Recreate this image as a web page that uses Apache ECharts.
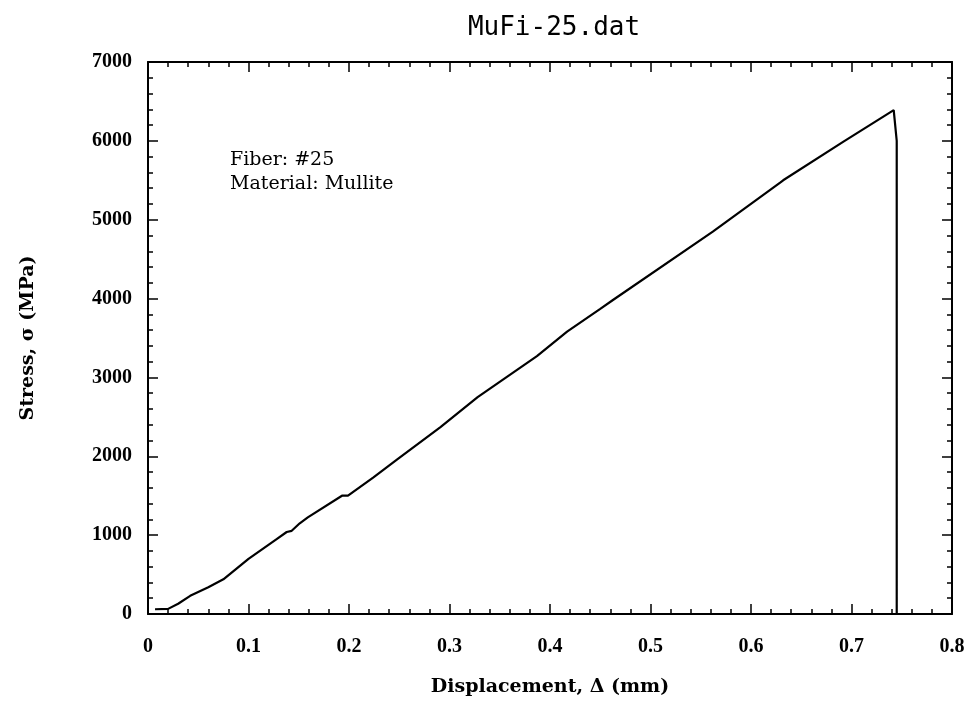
<!DOCTYPE html>
<html>
<head>
<meta charset="utf-8">
<script src="https://cdn.jsdelivr.net/npm/echarts@6/dist/echarts.min.js"></script>
<style>
  html, body { margin: 0; padding: 0; background: #fff; }
  #chart { width: 968px; height: 713px; }
</style>
</head>
<body>
<div id="chart"></div>
<script>
// Displacement (mm) and stress (MPa)
const displacement = [0.007, 0.02, 0.03, 0.042, 0.06, 0.075, 0.1, 0.128, 0.138, 0.143, 0.151, 0.159,
  0.193, 0.199, 0.224, 0.248, 0.291, 0.328, 0.387, 0.417, 0.45, 0.463, 0.562, 0.629, 0.632, 0.692,
  0.742, 0.745, 0.745];
const stress = [60, 65, 130, 230, 340, 440, 700, 950, 1040, 1055, 1150, 1225,
  1500, 1500, 1730, 1960, 2370, 2750, 3270, 3580, 3870, 3985, 4850, 5470, 5500, 5990,
  6390, 6000, 0];

const noteLines = ['Fiber: #25', 'Material: Mullite'];

const serif = '"DejaVu Serif", "Liberation Serif", serif';
const tickFont = '"Liberation Serif", "DejaVu Serif", serif';

const chart = echarts.init(document.getElementById('chart'));

const axisLine = { show: true, onZero: false, lineStyle: { color: '#000', width: 2 } };
const tick = { show: true, inside: true, length: 10, lineStyle: { color: '#000', width: 1.5 } };
const minor = { show: true, splitNumber: 5, length: 5, lineStyle: { color: '#000', width: 1.5 } };

chart.setOption({
  animation: false,
  title: {
    text: 'MuFi-25.dat',
    left: 549,
    textAlign: 'center',
    top: 10,
    textStyle: { fontFamily: '"DejaVu Sans Mono", monospace', fontWeight: 'normal', fontSize: 26, color: '#000' }
  },
  grid: { left: 148, right: 16, top: 62, bottom: 99 },
  graphic: [{
    type: 'text',
    left: 230,
    top: 148,
    style: {
      text: noteLines.join('\n'),
      font: '19px ' + serif,
      lineHeight: 24,
      fill: '#000'
    }
  }],
  xAxis: [{
    type: 'value',
    min: 0, max: 0.8, interval: 0.1,
    name: 'Displacement, Δ (mm)',
    nameLocation: 'middle',
    nameGap: 64,
    nameTextStyle: { fontFamily: serif, fontWeight: 'bold', fontSize: 19, color: '#000' },
    axisLine: axisLine,
    axisTick: tick,
    minorTick: minor,
    splitLine: { show: false },
    axisLabel: {
      margin: 23,
      fontFamily: tickFont, fontWeight: 'bold', fontSize: 20, color: '#000',
      formatter: v => v === 0 ? '0' : v.toFixed(1)
    }
  }, {
    type: 'value',
    position: 'top',
    min: 0, max: 0.8, interval: 0.1,
    axisLine: axisLine,
    axisTick: tick,
    minorTick: minor,
    splitLine: { show: false },
    axisLabel: { show: false }
  }],
  yAxis: [{
    type: 'value',
    min: 0, max: 7000, interval: 1000,
    name: 'Stress, σ (MPa)',
    nameLocation: 'middle',
    nameGap: 110,
    nameTextStyle: { fontFamily: serif, fontWeight: 'bold', fontSize: 19, color: '#000' },
    axisLine: axisLine,
    axisTick: tick,
    minorTick: minor,
    splitLine: { show: false },
    axisLabel: { margin: 16, fontFamily: tickFont, fontWeight: 'bold', fontSize: 20, color: '#000', formatter: v => String(v) }
  }, {
    type: 'value',
    position: 'right',
    min: 0, max: 7000, interval: 1000,
    axisLine: axisLine,
    axisTick: tick,
    minorTick: minor,
    splitLine: { show: false },
    axisLabel: { show: false }
  }],
  series: [{
    type: 'line',
    data: displacement.map((d, i) => [d, stress[i]]),
    showSymbol: false,
    lineStyle: { color: '#000', width: 2.2 }
  }]
});
</script>
</body>
</html>
